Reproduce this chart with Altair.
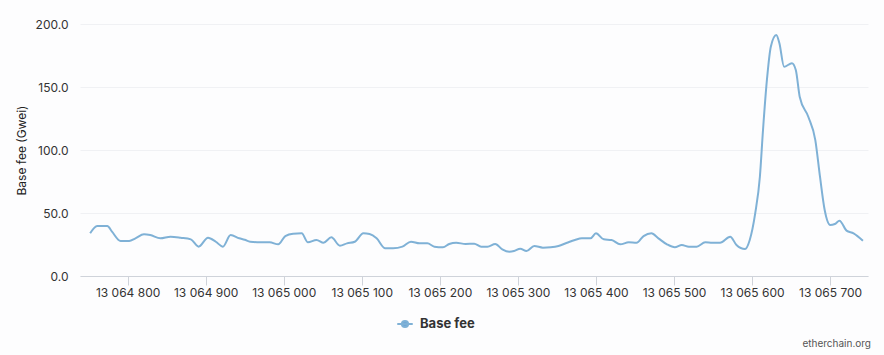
import altair as alt
import pandas as pd

blocks = [13064752, 13064761, 13064774, 13064780, 13064791, 13064802, 13064810, 13064821,
          13064829, 13064842, 13064855, 13064868, 13064881, 13064891, 13064903, 13064913,
          13064922, 13064932, 13064943, 13064950, 13064957, 13064970, 13064982, 13064993,
          13065002, 13065012, 13065023, 13065031, 13065042, 13065051, 13065061, 13065072,
          13065081, 13065091, 13065102, 13065110, 13065119, 13065130, 13065140, 13065152,
          13065163, 13065174, 13065184, 13065193, 13065204, 13065212, 13065221, 13065233,
          13065244, 13065253, 13065261, 13065271, 13065280, 13065289, 13065295, 13065303,
          13065311, 13065321, 13065332, 13065342, 13065352, 13065363, 13065373, 13065382,
          13065393, 13065400, 13065410, 13065420, 13065431, 13065442, 13065452, 13065461,
          13065471, 13065480, 13065491, 13065501, 13065510, 13065519, 13065529, 13065540,
          13065549, 13065559, 13065572, 13065580, 13065591, 13065597, 13065604, 13065610,
          13065614, 13065619, 13065624, 13065631, 13065635, 13065641, 13065651, 13065656,
          13065661, 13065672, 13065681, 13065687, 13065693, 13065700, 13065706, 13065712,
          13065721, 13065730, 13065742]
base_fee = [33.9, 39.7, 39.7, 35.2, 27.8, 27.8, 29.9, 33.1,
            32.5, 29.9, 31.2, 30.4, 29.1, 23.3, 30.4, 27.2,
            23.3, 32.5, 29.9, 28.8, 27.2, 26.7, 26.7, 25.1,
            31.7, 33.6, 33.9, 26.7, 28.6, 26.4, 30.7, 24.1,
            25.9, 27.2, 33.9, 33.3, 29.9, 22.0, 22.0, 23.3,
            27.2, 25.9, 25.9, 23.3, 22.8, 25.4, 26.4, 25.4,
            25.6, 23.3, 23.3, 25.4, 21.2, 19.3, 19.8, 21.7,
            19.8, 23.8, 22.5, 22.8, 23.8, 26.4, 28.6, 29.9,
            29.9, 33.9, 29.1, 28.6, 25.1, 26.7, 26.4, 31.7,
            33.9, 29.9, 25.1, 22.8, 24.6, 23.3, 23.3, 26.7,
            26.4, 26.4, 31.2, 24.6, 21.4, 28.6, 49.7, 78.8,
            115.9, 155.6, 182.0, 191.3, 184.7, 166.1, 168.8, 163.5,
            142.3, 126.4, 107.9, 78.8, 52.4, 40.5, 41.3, 43.9,
            36.0, 33.9, 28.0]
series_name = "Base fee"
x_ticks = list(range(13064800, 13065701, 100))
y_ticks = [0, 50, 100, 150, 200]

df = pd.DataFrame({"block": blocks, "fee": base_fee, "series": series_name})

FONT = "Inter"
LINE_COLOR = "#7fb1d6"

line = alt.Chart(df).mark_line(
    interpolate="monotone", strokeWidth=2, color=LINE_COLOR
).encode(
    x=alt.X("block:Q",
            scale=alt.Scale(domain=[13064739, 13065748.5], nice=False, zero=False),
            axis=alt.Axis(values=x_ticks, grid=False, title=None,
                          labelExpr="replace(replace(format(datum.value, ','), ',', ' '), ',', ' ')",
                          tickSize=9, tickColor="#cfd3da", domainColor="#cfd3da",
                          labelPadding=2, labelFontSize=12, labelColor="#333333",
                          labelFont=FONT)),
    y=alt.Y("fee:Q",
            scale=alt.Scale(domain=[0, 200], nice=False),
            axis=alt.Axis(values=y_ticks, format=".1f", title="Base fee (Gwei)",
                          domain=False, ticks=False, gridColor="#f0f1f4",
                          labelPadding=12, labelFontSize=12, labelColor="#333333",
                          labelFont=FONT, titleFont=FONT, titleFontSize=12,
                          titleFontWeight="normal", titleColor="#222222",
                          titlePadding=7)),
    stroke=alt.Stroke("series:N",
                      scale=alt.Scale(domain=[series_name], range=[LINE_COLOR]),
                      legend=alt.Legend(
                          title=None, orient="none", legendX=316, legendY=291,
                          symbolType="M-1,0 H1 M0.4,0 A0.4,0.4 0 1 1 -0.4,0 A0.4,0.4 0 1 1 0.4,0 Z",
                          symbolSize=240, symbolStrokeWidth=2,
                          symbolFillColor="#6fa6d6", symbolStrokeColor=LINE_COLOR,
                          labelFont=FONT, labelFontSize=13, labelFontWeight="bold",
                          labelColor="#333333", labelOffset=6)),
)

credit = alt.Chart(pd.DataFrame({"t": ["etherchain.org"]})).mark_text(
    align="right", baseline="middle", fontSize=10, color="#555555", font=FONT
).encode(
    text="t:N",
    x=alt.value(791),
    y=alt.value(320),
)

chart = alt.layer(line, credit).properties(
    width=788, height=252,
    autosize=alt.AutoSizeParams(type="none"),
    padding={"left": 80, "top": 24, "right": 16, "bottom": 79},
    background="#fdfdfe",
).configure_view(stroke=None)

chart.save("out.html", embed_options={"renderer": "svg", "actions": False})
